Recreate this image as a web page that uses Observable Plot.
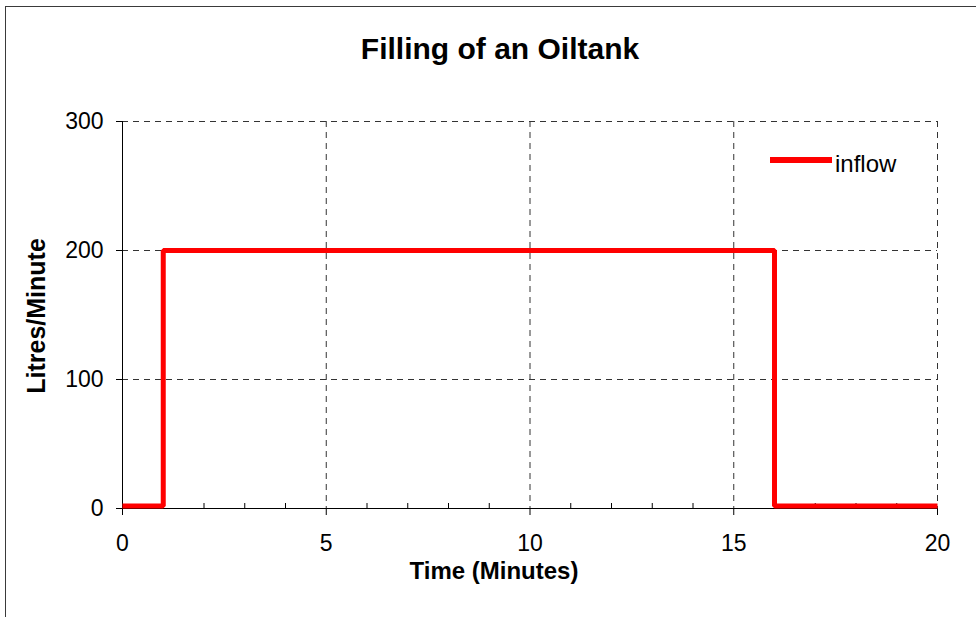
<!DOCTYPE html>
<html>
<head>
<meta charset="utf-8">
<script src="https://cdn.jsdelivr.net/npm/d3@7"></script>
<script src="https://cdn.jsdelivr.net/npm/@observablehq/plot@0.6"></script>
<style>
  html, body { margin: 0; padding: 0; background: #fff; overflow: hidden; }
  #wrap { position: relative; width: 976px; height: 617px; }
  #border { position: absolute; left: 5px; top: 6px; width: 1200px; height: 900px; border: 1px solid #3a3a3a; box-sizing: border-box; pointer-events: none; }
  #legend { position: absolute; left: 0; top: 0; pointer-events: none; }
  #chart { position: absolute; left: 0; top: 0; }
</style>
</head>
<body>
<div id="wrap">
  <div id="border"></div>
  <div id="chart"></div>
  <svg id="legend" width="976" height="617"></svg>
</div>
<script>
// Data
const title = "Filling of an Oiltank";
const xLabel = "Time (Minutes)";
const yLabel = "Litres/Minute";
const seriesName = "inflow";
const time = [0, 1, 16, 20];
const inflow = [2, 200, 2, 2];
const xTicks = [0, 5, 10, 15, 20];
const xMinorTicks = [1, 2, 3, 4, 6, 7, 8, 9, 11, 12, 13, 14, 16, 17, 18, 19];
const yTicks = [0, 100, 200, 300];

const data = time.map((t, i) => ({ time: t, inflow: inflow[i] }));
const font = "'Liberation Sans', Arial, sans-serif";
const gridStyle = { stroke: "#333", strokeOpacity: 1, strokeWidth: 1, strokeDasharray: "6,5" };

const chart = Plot.plot({
  width: 976,
  height: 617,
  marginLeft: 122,
  marginRight: 39,
  marginTop: 121,
  marginBottom: 109,
  x: { domain: [0, 20] },
  y: { domain: [0, 300] },
  style: { fontFamily: font, fontSize: "23px", color: "#000", background: "transparent", overflow: "visible" },
  marks: [
    Plot.gridX(xTicks.filter(d => d !== 0), gridStyle),
    Plot.gridY(yTicks.filter(d => d !== 0), gridStyle),
    Plot.ruleX([0], { stroke: "#000", strokeWidth: 1 }),
    Plot.ruleY([0], { stroke: "#000", strokeWidth: 1 }),
    Plot.axisX(xTicks, { tickSize: 7, tickPadding: 19, label: null, fontSize: 23, stroke: "#000" }),
    Plot.axisX(xMinorTicks, { tickSize: -5, tickFormat: () => "", label: null, stroke: "#000" }),
    Plot.axisY(yTicks, { tickSize: 6, tickPadding: 13, label: null, fontSize: 23, stroke: "#000" }),
    Plot.line(data, { x: "time", y: "inflow", curve: "step-after", stroke: "#ff0000", strokeWidth: 5, strokeLinejoin: "miter", strokeLinecap: "butt" }),
    Plot.text([title], { frameAnchor: "top", textAnchor: "middle", dx: -30, dy: -84, fontSize: 30, fontWeight: "bold", fill: "#000" }),
    Plot.text([xLabel], { frameAnchor: "bottom", textAnchor: "middle", dx: -36, dy: 70, fontSize: 24, fontWeight: "bold", fill: "#000" }),
    Plot.text([yLabel], { frameAnchor: "left", textAnchor: "middle", dx: -86, dy: 1, rotate: -90, fontSize: 25, fontWeight: "bold", fill: "#000" })
  ]
});
document.getElementById("chart").appendChild(chart);

// Legend
const lg = d3.select("#legend");
lg.append("line").attr("x1", 770).attr("x2", 832).attr("y1", 160).attr("y2", 160)
  .attr("stroke", "#ff0000").attr("stroke-width", 6);
lg.append("text").attr("x", 835).attr("y", 172).attr("font-family", font).attr("font-size", 24)
  .attr("fill", "#000").text(seriesName);
</script>
</body>
</html>
